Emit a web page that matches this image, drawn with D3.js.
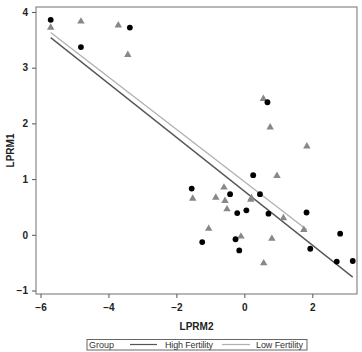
<!DOCTYPE html>
<html><head><meta charset="utf-8">
<script src="https://cdn.jsdelivr.net/npm/d3@7"></script>
<style>body{margin:0;background:#fff}svg{display:block}</style>
</head><body>
<script>
// High fertility (circles)
const highX = [-5.70,-4.81,-3.37,0.68,0.26,-1.55,-0.42,0.46,-0.21,0.06,0.71,1.83,2.82,-1.24,-0.26,-0.15,1.94,2.72,3.19];
const highY = [3.86,3.37,3.72,2.38,1.07,0.83,0.73,0.73,0.39,0.44,0.38,0.40,0.02,-0.13,-0.08,-0.28,-0.25,-0.48,-0.47];
// Low fertility (triangles)
const lowX = [-5.70,-4.81,-3.71,-3.43,0.56,0.76,1.84,0.96,-1.52,-0.60,-0.84,-0.57,0.19,0.21,-0.51,1.15,1.75,-1.05,-0.10,0.81,0.57];
const lowY = [3.72,3.83,3.76,3.23,2.44,1.93,1.59,1.06,0.65,0.85,0.67,0.61,0.63,0.66,0.46,0.30,0.09,0.11,-0.03,-0.07,-0.51];
// Fitted lines (endpoints in data units)
const highFitX = [-5.70, 3.19];
const highFitY = [3.54, -0.76];
const lowFitX = [-5.70, 1.84];
const lowFitY = [3.63, 0.09];
const xTicks = [-6,-4,-2,0,2];
const yTicks = [-1,0,1,2,3,4];
const legendLabels = ["Group","High Fertility","Low Fertility"];

const W=362,H=352;
const svg=d3.select("body").append("svg").attr("width",W).attr("height",H);
const frame={l:36,r:357,t:7,b:294};
const x=d3.scaleLinear().domain([-6,2]).range([40.5,312.3]);
const y=d3.scaleLinear().domain([-1,4]).range([290.5,12]);
const axisCol="#555";

svg.append("rect").attr("x",frame.l).attr("y",frame.t).attr("width",frame.r-frame.l).attr("height",frame.b-frame.t)
  .attr("fill","none").attr("stroke","#888").attr("stroke-width",1.2);

const gx=svg.append("g").attr("transform",`translate(0,${frame.b})`)
  .call(d3.axisBottom(x).tickValues(xTicks).tickSize(4).tickPadding(6).tickFormat(d3.format("d")));
const gy=svg.append("g").attr("transform",`translate(${frame.l},0)`)
  .call(d3.axisLeft(y).tickValues(yTicks).tickSize(4).tickPadding(4).tickFormat(d3.format("d")));
[gx,gy].forEach(g=>{
  g.select(".domain").remove();
  g.selectAll(".tick line").attr("stroke",axisCol);
  g.selectAll(".tick text").attr("fill","#222").style("font-family","Liberation Sans, Arial, sans-serif")
   .style("font-size","10px").style("font-weight","bold");
});
svg.append("text").attr("x",(frame.l+frame.r)/2).attr("y",330).attr("text-anchor","middle")
  .style("font-family","Liberation Sans, Arial, sans-serif").style("font-size","10px").style("font-weight","bold")
  .attr("fill","#222").text("LPRM2");
svg.append("text").attr("transform",`translate(14,${(frame.t+frame.b)/2}) rotate(-90)`).attr("text-anchor","middle")
  .style("font-family","Liberation Sans, Arial, sans-serif").style("font-size","10px").style("font-weight","bold")
  .attr("fill","#222").text("LPRM1");

const line=d3.line().x(d=>x(d[0])).y(d=>y(d[1]));
svg.append("path").datum(lowFitX.map((v,i)=>[v,lowFitY[i]])).attr("d",line)
  .attr("fill","none").attr("stroke","#b0b0b0").attr("stroke-width",1.3);
svg.append("path").datum(highFitX.map((v,i)=>[v,highFitY[i]])).attr("d",line)
  .attr("fill","none").attr("stroke","#555").attr("stroke-width",1.3);

const tri=d3.symbol().type(d3.symbolTriangle).size(24);
svg.append("g").selectAll("path").data(lowX.map((v,i)=>[v,lowY[i]])).join("path")
  .attr("d",tri).attr("transform",d=>`translate(${x(d[0])},${y(d[1])})`).attr("fill","#888");
svg.append("g").selectAll("circle").data(highX.map((v,i)=>[v,highY[i]])).join("circle")
  .attr("cx",d=>x(d[0])).attr("cy",d=>y(d[1])).attr("r",2.9).attr("fill","#000");

// legend
const lg=svg.append("g");
lg.append("rect").attr("x",87).attr("y",339.5).attr("width",220).attr("height",10.5)
  .attr("fill","#fff").attr("stroke","#666").attr("stroke-width",1);
const lf=t=>t.style("font-family","Liberation Sans, Arial, sans-serif").style("font-size","9px").attr("fill","#333");
lf(lg.append("text").attr("x",89).attr("y",348).text(legendLabels[0]));
lg.append("line").attr("x1",130).attr("x2",157).attr("y1",344.5).attr("y2",344.5).attr("stroke","#555").attr("stroke-width",1.2);
lf(lg.append("text").attr("x",165).attr("y",348).attr("textLength",48).text(legendLabels[1]));
lg.append("line").attr("x1",222).attr("x2",250).attr("y1",344.5).attr("y2",344.5).attr("stroke","#b0b0b0").attr("stroke-width",1.2);
lf(lg.append("text").attr("x",256).attr("y",348).attr("textLength",47).text(legendLabels[2]));
</script>
</body></html>
